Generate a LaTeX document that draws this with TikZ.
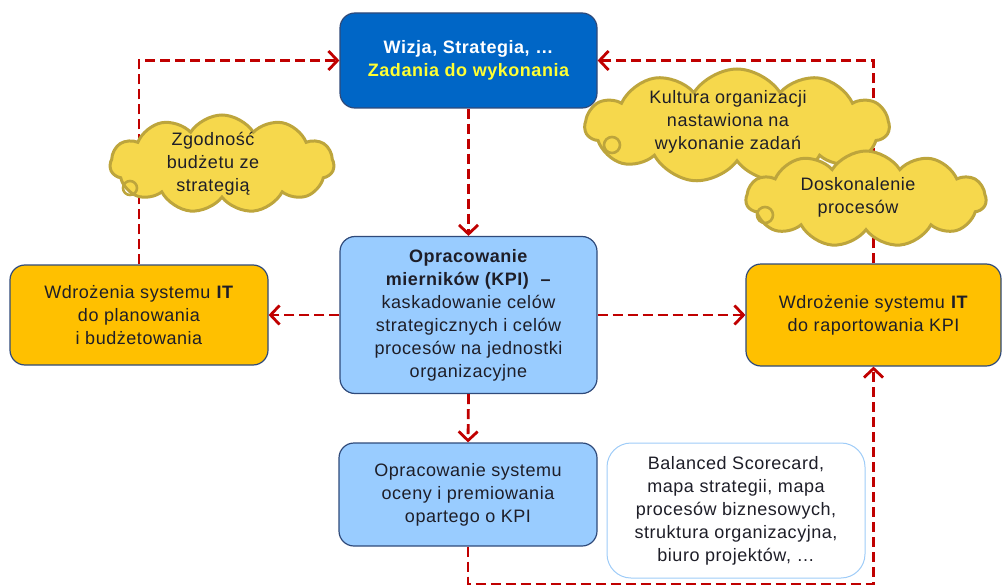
\documentclass[tikz,border=0pt]{standalone}
\usepackage{fontspec}
\setmainfont{Liberation Sans}[LetterSpace=3]
\usetikzlibrary{arrows.meta,shapes.symbols}
\definecolor{arr}{HTML}{C00000}
\definecolor{darkfill}{HTML}{0066C6}
\definecolor{lightfill}{HTML}{99CCFF}
\definecolor{orangefill}{HTML}{FFC000}
\definecolor{boxedge}{HTML}{2F4A7A}
\definecolor{cloudfill}{HTML}{F6D84C}
\definecolor{cloudedge}{HTML}{BDA53C}
\definecolor{txt}{HTML}{1E1E28}
\definecolor{titleyellow}{HTML}{FFFF33}
\definecolor{noteedge}{HTML}{9FCCF8}
\begin{document}
\begin{tikzpicture}[x=1pt,y=-1pt,
  font=\fontsize{18}{23}\selectfont,
  box/.style={rounded corners=15pt, draw=boxedge, line width=1.2pt, align=center, inner sep=0pt, text=txt},
  darkbox/.style={box, fill=darkfill, minimum width=257pt, minimum height=95pt},
  lightbox/.style={box, fill=lightfill},
  orangebox/.style={box, fill=orangefill},
  notebox/.style={box, draw=noteedge, fill=white, rounded corners=24pt, line width=1pt},
  conn/.style={draw=arr, line width=2.8pt, dash pattern=on 10pt off 5pt,
    -{Straight Barb[length=9pt,width=19pt]}},
  cloudshape/.style={cloud, cloud puffs=11, cloud puff arc=115, aspect=2.2,
    draw=cloudedge, fill=cloudfill, line width=3pt, inner sep=0pt},
  cloudtext/.style={align=center, text=txt, inner sep=0pt}
]
\useasboundingbox (0,0) rectangle (1003,588);

% boxes
\node[darkbox] (top) at (468.5,60.5) {\textbf{\color{white}Wizja, Strategia, \dots}\\\textbf{\color{titleyellow}Zadania do wykonania}};
\node[lightbox, minimum width=257pt, minimum height=157pt] (kpi) at (468.5,315)
  {\textbf{Opracowanie}\\\textbf{mierników (KPI)}~~\textbf{--}\\kaskadowanie celów\\strategicznych i celów\\procesów na jednostki\\organizacyjne};
\node[orangebox, minimum width=258pt, minimum height=100pt] (plan) at (139,315)
  {Wdrożenia systemu \textbf{IT}\\do planowania\\i budżetowania};
\node[orangebox, minimum width=255pt, minimum height=102pt] (rep) at (873.5,315)
  {Wdrożenie systemu \textbf{IT}\\do raportowania KPI};
\node[lightbox, minimum width=258pt, minimum height=103pt] (prem) at (468,494.5)
  {Opracowanie systemu\\oceny i premiowania\\opartego o KPI};
\node[notebox, minimum width=258pt, minimum height=135pt] (note) at (736,510.5)
  {Balanced Scorecard,\\mapa strategii, mapa\\procesów biznesowych,\\struktura organizacyjna,\\biuro projektów, \dots};

% connectors
\draw[conn] (top.south) -- (kpi.north);
\draw[conn] (kpi.west) -- (plan.east);
\draw[conn] (kpi.east) -- (rep.west);
\draw[conn] (kpi.south) -- (prem.north);
\draw[conn] (plan.north) |- (top.west);
\draw[conn] (rep.north) |- (top.east);
\coordinate (bot) at (468,584);
\draw[conn] (prem.south) -- (bot) -| (rep.south);

% clouds
\node[cloudshape, minimum width=224pt, minimum height=98pt] (c1) at (222,164) {};
\draw[cloudedge, line width=2.6pt] (130,188) circle (7pt);
\node[cloudtext] (t1) at (213,164) {Zgodność\\budżetu ze\\strategią};

\node[cloudshape, minimum width=304pt, minimum height=114pt] (c2) at (737,126) {};
\draw[cloudedge, line width=2.6pt] (612,145) circle (8pt);
\node[cloudtext] (t2) at (728,122) {Kultura organizacji\\nastawiona na\\wykonanie zadań};

\node[cloudshape, minimum width=240pt, minimum height=96pt] (c3) at (866,199) {};
\draw[cloudedge, line width=2.6pt] (765,215) circle (8pt);
\node[cloudtext] (t3) at (858,197) {Doskonalenie\\procesów};
\end{tikzpicture}
\end{document}
